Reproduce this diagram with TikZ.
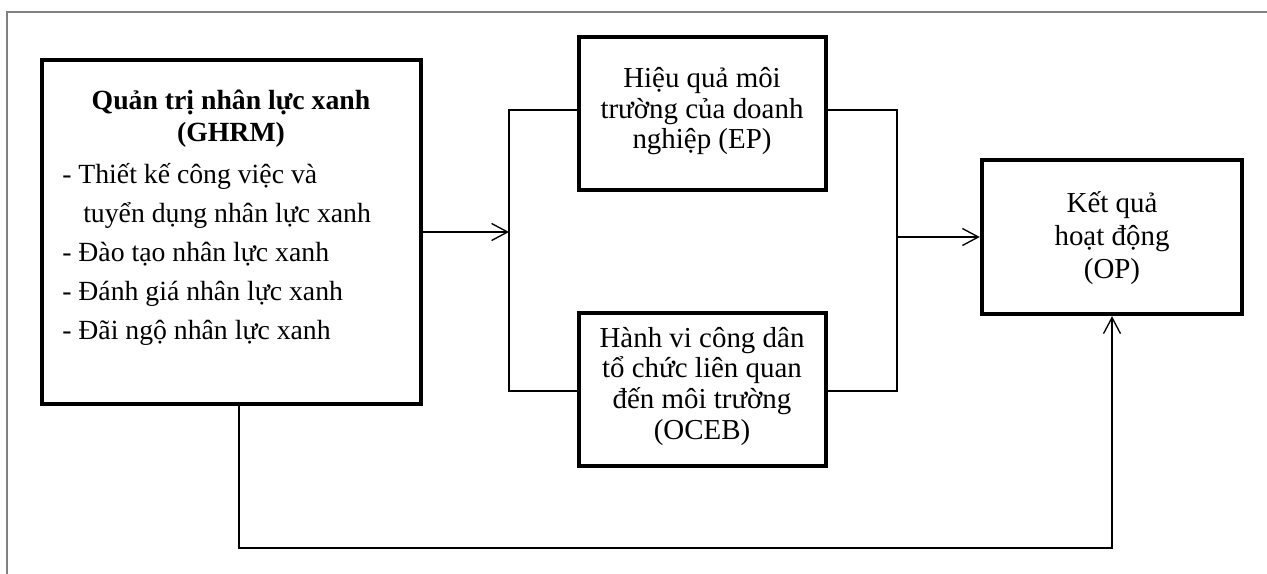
\documentclass[tikz,border=0pt]{standalone}
\usepackage{fontspec}
\setmainfont{Liberation Serif}
\usetikzlibrary{arrows.meta}
\begin{document}
\begin{tikzpicture}[x=0.75pt,y=-0.75pt,
  box/.style={draw=black,line width=3.3pt,inner sep=0pt,fill=none},
  txt/.style={inner sep=0pt,align=center,font=\fontsize{21.7pt}{23pt}\selectfont},
  conn/.style={draw=black,line width=1pt},
  arr/.style={conn,-{Straight Barb[length=12pt,width=12.75pt,line width=1pt]}},
  frame/.style={draw=black!50,line width=1.6pt}]
  \useasboundingbox (0,0) rectangle (1267,574);
  % outer frame (top and left sides)
  \draw[frame] (1267,12) -- (7,12) -- (7,576);

  % boxes
  \node[box,minimum width=284.25pt,minimum height=258pt] (ghrm) at (231.5,232) {};
  \node[box,minimum width=185.25pt,minimum height=114.75pt] (ep) at (702.5,113.5) {};
  \node[box,minimum width=185.25pt,minimum height=114.75pt] (oceb) at (702.5,389.5) {};
  \node[box,minimum width=195pt,minimum height=115.5pt] (op) at (1112,237) {};

  % box texts (base anchor = baseline of the last line)
  \node[txt,anchor=base,font=\fontsize{20.8pt}{24pt}\selectfont\bfseries] (ghrmtitle) at (231,142)
    {Quản trị nhân lực xanh\\(GHRM)};
  \node[txt,anchor=base west,align=left,font=\fontsize{20.8pt}{29.25pt}\selectfont] (ghrmlist) at (62,339)
    {- Thiết kế công việc và\\
     \hspace*{15.75pt}tuyển dụng nhân lực xanh\\
     - Đào tạo nhân lực xanh\\
     - Đánh giá nhân lực xanh\\
     - Đãi ngộ nhân lực xanh};
  \node[txt,anchor=base] (eptext) at (702,149)
    {Hiệu quả môi\\trường của doanh\\nghiệp (EP)};
  \node[txt,anchor=base] (ocebtext) at (702,439)
    {Hành vi công dân\\tổ chức liên quan\\đến môi trường\\(OCEB)};
  \node[txt,anchor=base,font=\fontsize{21.7pt}{24.5pt}\selectfont] (optext) at (1112,278)
    {Kết quả\\hoạt động\\(OP)};

  % bracket joining the two mediators
  \coordinate (lt) at (509,110);
  \coordinate (lb) at (509,391);
  \coordinate (rt) at (897,110);
  \coordinate (rb) at (897,391);
  \draw[conn] (ep.west |- lt) -- (lt) -- (lb) -- (oceb.west |- lb);
  \draw[conn] (ep.east |- rt) -- (rt) -- (rb) -- (oceb.east |- rb);

  % arrows
  \draw[arr] (ghrm.east) -- (ghrm.east -| lt);
  \draw[arr] (rt |- op.west) -- (op.west);
  \coordinate (dl) at (239,548);
  \draw[arr] (ghrm.south -| dl) -- (dl) -| (op.south);
\end{tikzpicture}
\end{document}
